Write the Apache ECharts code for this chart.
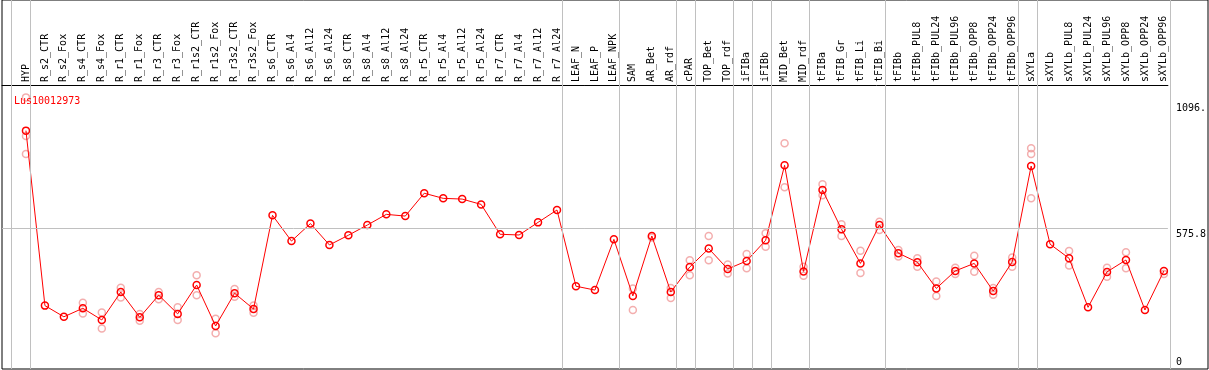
<!DOCTYPE html>
<html>
<head>
<meta charset="utf-8">
<script src="https://cdn.jsdelivr.net/npm/echarts@6/dist/echarts.min.js"></script>
<style>html,body{margin:0;padding:0;background:#fff;}#c{width:1209px;height:370px;}</style>
</head>
<body>
<div id="c"></div>
<script>
const geneName = 'Lus10012973';
const categories = ['HYP','R_s2_CTR','R_s2_Fox','R_s4_CTR','R_s4_Fox','R_r1_CTR','R_r1_Fox','R_r3_CTR','R_r3_Fox','R_r1s2_CTR','R_r1s2_Fox','R_r3s2_CTR','R_r3s2_Fox','R_s6_CTR','R_s6_Al4','R_s6_Al12','R_s6_Al24','R_s8_CTR','R_s8_Al4','R_s8_Al12','R_s8_Al24','R_r5_CTR','R_r5_Al4','R_r5_Al12','R_r5_Al24','R_r7_CTR','R_r7_Al4','R_r7_Al12','R_r7_Al24','LEAF_N','LEAF_P','LEAF_NPK','SAM','AR_Bet','AR_rdf','cPAR','TOP_Bet','TOP_rdf','iFIBa','iFIBb','MID_Bet','MID_rdf','tFIBa','tFIB_Gr','tFIB_Li','tFIB_Bi','tFIBb','tFIBb_PUL8','tFIBb_PUL24','tFIBb_PUL96','tFIBb_OPP8','tFIBb_OPP24','tFIBb_OPP96','sXYLa','sXYLb','sXYLb_PUL8','sXYLb_PUL24','sXYLb_PUL96','sXYLb_OPP8','sXYLb_OPP24','sXYLb_OPP96'];
const meanValues = [978,257,211,246,198,313,209,300,223,342,173,308,243,629,523,595,507,547,589,633,626,720,699,696,674,551,548,600,651,337,321,530,297,544,313,416,492,408,441,526,835,398,733,572,431,589,473,436,328,400,431,317,437,832,510,452,250,396,445,239,400];
const rep1 = [1115,null,null,269,229,331,222,313,250,382,203,325,257,null,null,null,null,null,null,null,null,null,null,null,null,null,null,null,null,null,null,null,328,538,330,444,544,426,470,555,926,417,757,592,483,603,486,452,356,413,462,330,455,905,null,482,null,413,477,null,387];
const rep2 = [956,null,null,225,163,290,195,283,198,300,143,294,228,null,null,null,null,null,null,null,null,null,null,null,null,null,null,null,null,null,null,null,239,null,288,382,444,389,411,500,745,380,712,544,391,569,459,417,297,387,397,302,417,882,null,422,null,376,411,null,null];
const rep3 = [882,null,null,null,null,null,null,null,null,null,null,null,null,null,null,null,null,null,null,null,null,null,null,null,null,null,null,null,null,null,null,null,null,null,null,null,null,null,null,null,null,null,null,null,null,null,null,null,null,null,null,null,null,699,null,null,null,null,null,null,null];
const groupEnds = [-1,0,28,31,34,35,37,38,39,41,45,52,53,60];
const refValue = 575.8;
const yTickValues = [0, 575.8, 1096.2];

const FONT = 'DejaVu Sans Mono';
const W = 1209, LEFT = 2, PLOT_RIGHT = 1170, FRAME_RIGHT = 1208, FIRST_X = 26, STEP = 19;
const plotXMin = (LEFT - FIRST_X) / STEP;
const plotXMax = (PLOT_RIGHT - FIRST_X) / STEP;
const frameXMax = (FRAME_RIGHT - FIRST_X) / STEP;
const yMax = 1166;
const lineOffset = 0.24;

const repPoints = [];
[rep1, rep2, rep3].forEach(arr => arr.forEach((v, i) => { if (v != null) repPoints.push([i, v]); }));
const mainPoints = meanValues.map((v, i) => [i, v]);
const vLines = groupEnds.map(e => ({ xAxis: e + lineOffset }));

const chart = echarts.init(document.getElementById('c'));
chart.setOption({
  animation: false,
  backgroundColor: '#fff',
  title: { text: geneName, left: 9, top: 91, textStyle: { fontFamily: FONT, fontSize: 10, color: '#ff0000', fontWeight: 'normal' } },
  grid: [
    { left: LEFT, right: W - PLOT_RIGHT, top: 85, bottom: 2, show: false },
    { left: LEFT, right: W - FRAME_RIGHT, top: 0, bottom: 1, show: true, borderColor: '#000', borderWidth: 1 }
  ],
  xAxis: [
    { type: 'value', gridIndex: 0, position: 'top', min: plotXMin, max: plotXMax,
      axisLine: { show: true, onZero: false, lineStyle: { color: '#000', width: 1 } }, axisTick: { show: false }, splitLine: { show: false },
      axisLabel: { customValues: categories.map((c, i) => i), formatter: v => categories[Math.round(v)] || '',
        rotate: -90, margin: 3, fontFamily: FONT, fontSize: 10, color: '#000', hideOverlap: false, showMinLabel: true, showMaxLabel: true } },
    { type: 'value', gridIndex: 1, min: plotXMin, max: frameXMax, show: false }
  ],
  yAxis: [
    { type: 'value', gridIndex: 0, position: 'right', min: 0, max: yMax,
      axisLine: { show: false }, axisTick: { show: false }, splitLine: { show: false },
      axisLabel: { align: 'left', margin: 8, verticalAlign: 'middle', customValues: yTickValues,
        showMinLabel: true, showMaxLabel: true,
        formatter: v => (v === 0 ? '{b|' : '{t|') + String(v).slice(0, 5) + '}',
        rich: { t: { fontFamily: FONT, fontSize: 10, color: '#000', padding: [12, 0, 0, 0] },
                b: { fontFamily: FONT, fontSize: 10, color: '#000', padding: [0, 0, 12, 0] } } } },
    { type: 'value', gridIndex: 1, min: 0, max: 1, show: false }
  ],
  series: [
    { type: 'line', xAxisIndex: 1, yAxisIndex: 1, data: [], silent: true, z: 1,
      markLine: { silent: true, symbol: 'none', label: { show: false }, lineStyle: { color: '#c0c0c0', type: 'solid', width: 1 }, data: vLines } },
    { type: 'line', xAxisIndex: 0, yAxisIndex: 0, data: [], silent: true, z: 1,
      markLine: { silent: true, symbol: 'none', label: { show: false }, lineStyle: { color: '#c0c0c0', type: 'solid', width: 1 },
        data: [{ yAxis: refValue }] } },
    { type: 'scatter', xAxisIndex: 0, yAxisIndex: 0, data: repPoints, symbol: 'circle', symbolSize: 7, z: 2,
      itemStyle: { color: 'transparent', borderColor: '#f09a9a', borderWidth: 1.5 } },
    { type: 'line', xAxisIndex: 0, yAxisIndex: 0, data: mainPoints, symbol: 'circle', symbolSize: 7, showAllSymbol: true, z: 3,
      lineStyle: { color: '#ff0000', width: 1 },
      itemStyle: { color: 'transparent', borderColor: '#ff0000', borderWidth: 1.5 } }
  ]
});
</script>
</body>
</html>
